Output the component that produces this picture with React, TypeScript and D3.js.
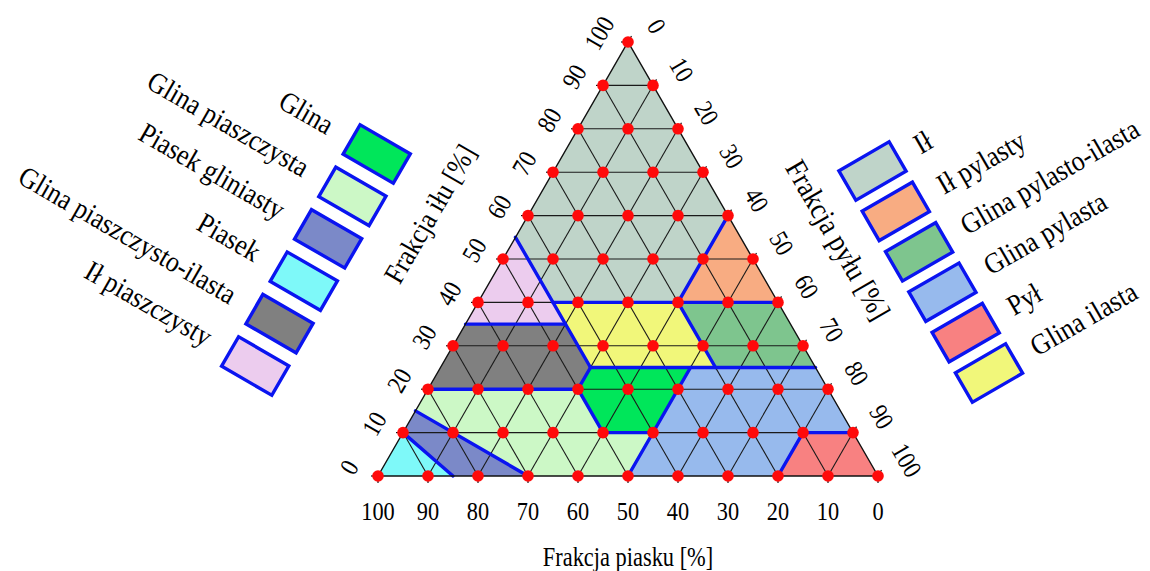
import React from "react";
import * as d3 from "d3";

// soil texture triangle (PTG), points are [sand, silt, clay]
const ticks = [0, 10, 20, 30, 40, 50, 60, 70, 80, 90, 100];

const regionNames = [
  "Ił", "Ił pylasty", "Glina pylasto-ilasta", "Glina pylasta", "Pył", "Glina ilasta",
  "Glina", "Glina piaszczysta", "Piasek gliniasty", "Piasek", "Glina piaszczysto-ilasta", "Ił piaszczysty",
];

const regionColors = [
  "#bfd4c9", "#f8ac82", "#7ec58e", "#97baed", "#f88181", "#f1f77a",
  "#00e65a", "#ccf8c6", "#7b89c8", "#7ef9f9", "#808080", "#ecccee",
];

const regionPoints = [
  [[0, 0, 100], [45, 0, 55], [45, 15, 40], [20, 40, 40], [0, 40, 60]],
  [[0, 40, 60], [20, 40, 40], [0, 60, 40]],
  [[20, 40, 40], [0, 60, 40], [0, 75, 25], [20, 55, 25]],
  [[25, 50, 25], [0, 75, 25], [0, 90, 10], [10, 80, 10], [20, 80, 0], [50, 50, 0]],
  [[0, 90, 10], [10, 80, 10], [20, 80, 0], [0, 100, 0]],
  [[45, 15, 40], [20, 40, 40], [20, 55, 25], [45, 30, 25]],
  [[45, 30, 25], [25, 50, 25], [40, 50, 10], [50, 40, 10], [50, 30, 20]],
  [[80, 0, 20], [50, 30, 20], [50, 40, 10], [40, 50, 10], [50, 50, 0], [70, 30, 0], [85, 0, 15]],
  [[85, 0, 15], [70, 30, 0], [85, 15, 0], [90, 0, 10]],
  [[90, 0, 10], [85, 15, 0], [100, 0, 0]],
  [[80, 0, 20], [65, 0, 35], [45, 20, 35], [45, 30, 25], [50, 30, 20]],
  [[65, 0, 35], [45, 0, 55], [45, 20, 35]],
];

const boundaries = [
  [[45, 0, 55], [45, 30, 25]],
  [[65, 0, 35], [45, 20, 35]],
  [[45, 15, 40], [0, 60, 40]],
  [[0, 40, 60], [20, 40, 40]],
  [[20, 40, 40], [20, 55, 25]],
  [[45, 30, 25], [0, 75, 25]],
  [[45, 30, 25], [50, 30, 20]],
  [[80, 0, 20], [50, 30, 20]],
  [[50, 30, 20], [50, 40, 10]],
  [[50, 40, 10], [40, 50, 10]],
  [[25, 50, 25], [50, 50, 0]],
  [[85, 0, 15], [70, 30, 0]],
  [[90, 0, 10], [85, 15, 0]],
  [[0, 90, 10], [10, 80, 10]],
  [[10, 80, 10], [20, 80, 0]],
];

const leftLegend = ["Glina", "Glina piaszczysta", "Piasek gliniasty", "Piasek", "Glina piaszczysto-ilasta", "Ił piaszczysty"];
const rightLegend = ["Ił", "Ił pylasty", "Glina pylasto-ilasta", "Glina pylasta", "Pył", "Glina ilasta"];

const font = "'Liberation Serif', 'Times New Roman', serif";

export default function App() {
  const sandX = d3.scaleLinear().domain([100, 0]).range([378, 878]);
  const clayY = d3.scaleLinear().domain([0, 100]).range([476, 42]);
  const pt = (p) => [sandX(p[0] + p[2] / 2), clayY(p[2])];
  const line = d3.line();
  const color = d3.scaleOrdinal().domain(regionNames).range(regionColors);

  const grid = [];
  ticks.slice(1, -1).forEach((v) => {
    grid.push([[100 - v, 0, v], [0, 100 - v, v]]);
    grid.push([[100 - v, v, 0], [0, v, 100 - v]]);
    grid.push([[v, 100 - v, 0], [v, 0, 100 - v]]);
  });

  const dots = [];
  ticks.forEach((c) => {
    ticks.filter((s) => s <= 100 - c).forEach((s) => dots.push([100 - c - s, s, c]));
  });

  const outer = [[100, 0, 0], [0, 100, 0], [0, 0, 100]];

  return (
    <div style={{ position: "absolute", left: 0, top: 0 }}>
      <svg width={1150} height={571} style={{ display: "block", background: "#fff" }} fontFamily={font}>
        {regionPoints.map((poly, i) => (
          <path key={i} d={line(poly.map(pt)) + "Z"} fill={color(regionNames[i])} stroke="none" />
        ))}
        {grid.map((g, i) => (
          <path key={i} d={line(g.map(pt))} stroke="#1a1a1a" strokeWidth={1.1} fill="none" />
        ))}
        {boundaries.map((b, i) => (
          <path key={i} d={line(b.map(pt))} stroke="#0a14f0" strokeWidth={3.4} fill="none" strokeLinecap="round" />
        ))}
        <path d={line(outer.map(pt)) + "Z"} stroke="#111" strokeWidth={1.4} fill="none" />
        {ticks.map((v) => {
          const [bx, by] = pt([v, 100 - v, 0]);
          const [lx, ly] = pt([100 - v, 0, v]);
          const [rx, ry] = pt([0, v, 100 - v]);
          return (
            <g key={v} stroke="#111" strokeWidth={1.2}>
              <line x1={bx} y1={by} x2={bx} y2={by + 7} />
              <line x1={lx} y1={ly} x2={lx - 7} y2={ly} />
              <line x1={rx} y1={ry} x2={rx + 3.5} y2={ry - 6} />
            </g>
          );
        })}
        {dots.map((p, i) => {
          const [x, y] = pt(p);
          return <circle key={i} cx={x} cy={y} r={5.8} fill="#ff0a0a" />;
        })}

        {/* axis tick labels */}
        {ticks.map((v) => {
          const [bx, by] = pt([v, 100 - v, 0]);
          const [lx, ly] = pt([100 - v, 0, v]);
          const [rx, ry] = pt([0, v, 100 - v]);
          return (
            <g key={v} fontSize={26} fill="#000">
              <text transform={`translate(${bx},${by + 44}) scale(0.86,1)`} textAnchor="middle">{v}</text>
              <text transform={`translate(${lx - 29},${ly - 9}) rotate(-60) scale(0.86,1)`} textAnchor="middle" dominantBaseline="central">{v}</text>
              <text transform={`translate(${rx + 29},${ry - 16}) rotate(60) scale(0.86,1)`} textAnchor="middle" dominantBaseline="central">{v}</text>
            </g>
          );
        })}
        <text transform="translate(628,566) scale(0.83,1)" fontSize={27} textAnchor="middle">Frakcja piasku [%]</text>
        <text transform="translate(430,214) rotate(-60) scale(0.88,1)" fontSize={29} textAnchor="middle" dominantBaseline="central">Frakcja iłu [%]</text>
        <text transform="translate(838,240) rotate(60) scale(0.88,1)" fontSize={30} textAnchor="middle" dominantBaseline="central">Frakcja pyłu [%]</text>

        {/* legends */}
        {leftLegend.map((name, i) => (
          <g key={name} transform={`translate(${376.7 - 24.3 * i},${154 + 42.4 * i}) rotate(30)`}>
            <rect x={-29} y={-17} width={58} height={34} fill={color(name)} stroke="#0a14f0" strokeWidth={3.4} />
            <text transform="translate(-53,9) scale(0.89,1)" fontSize={29} textAnchor="end">{name}</text>
          </g>
        ))}
        {rightLegend.map((name, i) => (
          <g key={name} transform={`translate(${872.5 + 23.3 * i},${171 + 40.4 * i}) rotate(-30)`}>
            <rect x={-29} y={-17} width={58} height={34} fill={color(name)} stroke="#0a14f0" strokeWidth={3.4} />
            <text transform="translate(50,10) scale(0.89,1)" fontSize={29} textAnchor="start">{name}</text>
          </g>
        ))}
      </svg>
    </div>
  );
}
